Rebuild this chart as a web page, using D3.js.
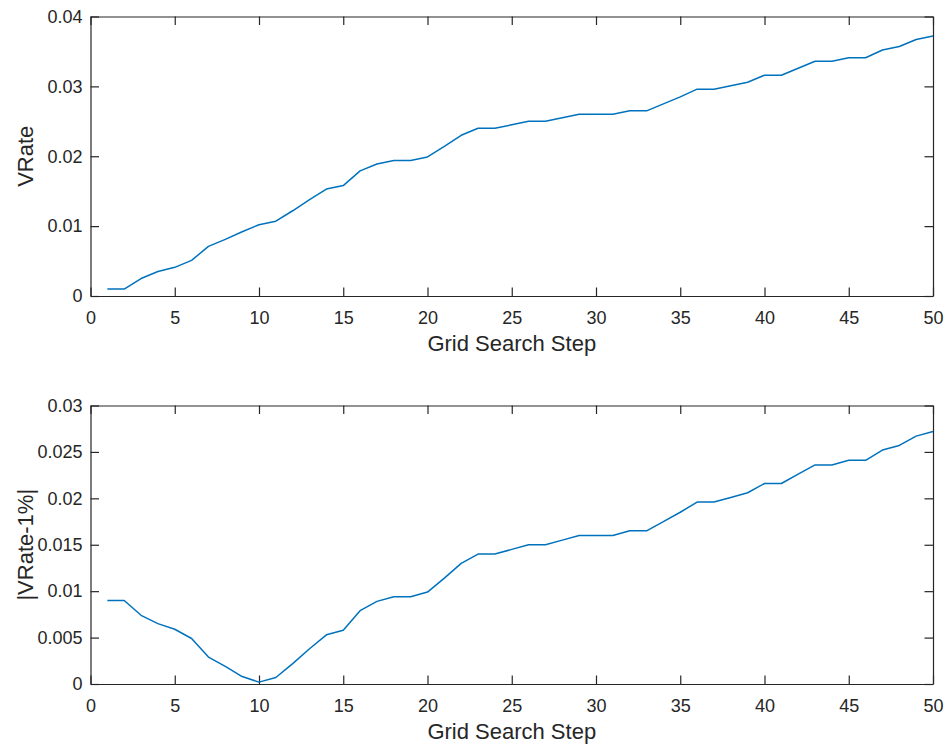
<!DOCTYPE html>
<html>
<head>
<meta charset="utf-8">
<script src="https://cdn.jsdelivr.net/npm/d3@7"></script>
<style>
  body { margin: 0; background: #fff; }
  svg text { font-family: "Liberation Sans", Arial, Helvetica, sans-serif; fill: #262626; }
</style>
</head>
<body>
<svg id="chart" width="950" height="750"></svg>
<script>
// grid search steps 1..50
var steps = d3.range(1, 51);

var vrate = [
  0.0010, 0.0010, 0.0025, 0.0035, 0.0041, 0.0051, 0.0071, 0.0081, 0.0092, 0.0102,
  0.0107, 0.0122, 0.0138, 0.0153, 0.0158, 0.0179, 0.0189, 0.0194, 0.0194, 0.0199,
  0.0214, 0.0230, 0.0240, 0.0240, 0.0245, 0.0250, 0.0250, 0.0255, 0.0260, 0.0260,
  0.0260, 0.0265, 0.0265, 0.0275, 0.0285, 0.0296, 0.0296, 0.0301, 0.0306, 0.0316,
  0.0316, 0.0326, 0.0336, 0.0336, 0.0341, 0.0341, 0.0352, 0.0357, 0.0367, 0.0372
];

var vrateErr = [
  0.0090, 0.0090, 0.0074, 0.0065, 0.0059, 0.0049, 0.0029, 0.0019, 0.0008, 0.0002,
  0.0007, 0.0022, 0.0038, 0.0053, 0.0058, 0.0079, 0.0089, 0.0094, 0.0094, 0.0099,
  0.0114, 0.0130, 0.0140, 0.0140, 0.0145, 0.0150, 0.0150, 0.0155, 0.0160, 0.0160,
  0.0160, 0.0165, 0.0165, 0.0175, 0.0185, 0.0196, 0.0196, 0.0201, 0.0206, 0.0216,
  0.0216, 0.0226, 0.0236, 0.0236, 0.0241, 0.0241, 0.0252, 0.0257, 0.0267, 0.0272
];

var xTicks = [0, 5, 10, 15, 20, 25, 30, 35, 40, 45, 50];
var yTicksTop = [0, 0.01, 0.02, 0.03, 0.04];
var yTicksBottom = [0, 0.005, 0.01, 0.015, 0.02, 0.025, 0.03];

var svg = d3.select('#chart');

var left = 90.5,
    right = 933,
    tick = 8.5,
    axisColor = '#262626',
    lineColor = '#0072BD';

var x = d3.scaleLinear().domain([0, 50]).range([left, right]);

function fmt(d) {
  return d === 0 ? '0' : String(+d.toFixed(3));
}

function panel(top, bottom, values, yMax, yTicks, yLabel) {
  var y = d3.scaleLinear().domain([0, yMax]).range([bottom, top]);
  var g = svg.append('g');

  // bottom axis with labels
  g.append('g')
      .attr('transform', 'translate(0,' + bottom + ')')
      .call(d3.axisBottom(x).tickValues(xTicks).tickSizeInner(-tick).tickSizeOuter(0).tickPadding(15).tickFormat(fmt));

  g.append('g')
      .attr('transform', 'translate(0,' + top + ')')
      .call(d3.axisTop(x).tickValues(xTicks).tickSizeInner(-tick).tickSizeOuter(0).tickFormat(''));

  g.append('g')
      .attr('transform', 'translate(' + left + ',0)')
      .call(d3.axisLeft(y).tickValues(yTicks).tickSizeInner(-tick).tickSizeOuter(0).tickPadding(8).tickFormat(fmt));

  g.append('g')
      .attr('transform', 'translate(' + right + ',0)')
      .call(d3.axisRight(y).tickValues(yTicks).tickSizeInner(-tick).tickSizeOuter(0).tickFormat(''));

  g.selectAll('.domain, .tick line')
      .attr('stroke', axisColor)
      .attr('stroke-width', 1.2);
  g.selectAll('.tick text')
      .attr('font-size', 18)
      .attr('fill', axisColor);

  var line = d3.line()
      .x(function(d, i) { return x(steps[i]); })
      .y(function(d) { return y(d); });

  g.append('path')
      .datum(values)
      .attr('d', line)
      .attr('fill', 'none')
      .attr('stroke', lineColor)
      .attr('stroke-width', 1.5)
      .attr('stroke-linejoin', 'round');

  g.append('text')
      .attr('x', (left + right) / 2)
      .attr('y', bottom + 55)
      .attr('text-anchor', 'middle')
      .attr('font-size', 22)
      .text('Grid Search Step');

  g.append('text')
      .attr('transform', 'translate(33,' + (top + bottom) / 2 + ') rotate(-90)')
      .attr('text-anchor', 'middle')
      .attr('font-size', 22)
      .text(yLabel);
}

panel(16.5, 296, vrate, 0.04, yTicksTop, 'VRate');
panel(405.5, 684, vrateErr, 0.03, yTicksBottom, '|VRate-1%|');
</script>
</body>
</html>
